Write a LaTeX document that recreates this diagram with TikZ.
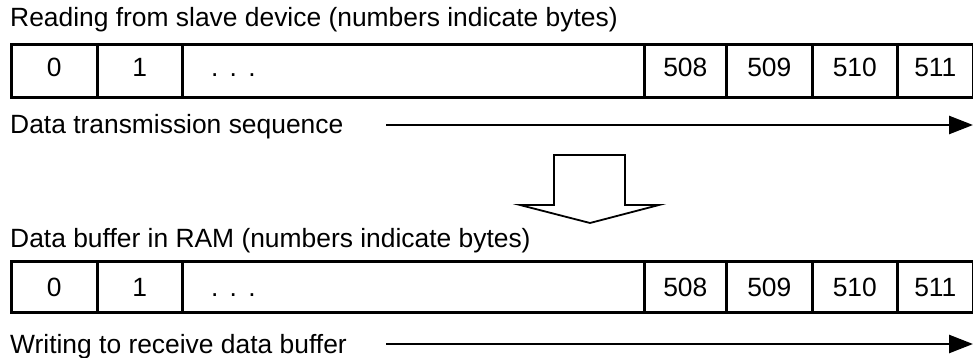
\documentclass[tikz,border=0pt]{standalone}
\usepackage{fontspec}
\setmainfont{Liberation Sans}
\usetikzlibrary{arrows.meta}
\begin{document}
\begin{tikzpicture}[x=1pt,y=-1pt,
  cellbox/.style={draw=black,line width=2.6pt,inner sep=0pt},
  lbl/.style={inner sep=0pt,anchor=base west,font=\fontsize{26.4}{30}\selectfont},
  num/.style={inner sep=0pt,anchor=base,font=\fontsize{26.4}{30}\selectfont},
  flow/.style={line width=2.6pt,-{Triangle[length=24pt,width=18pt]}}]
\useasboundingbox (0,0) rectangle (973,358);
\newcommand{\mydots}{.\hspace{11.2pt}.\hspace{11.2pt}.}
% top row
\foreach \n/\a/\b in {t0/10/96,t1/96/181,t2/181/643,t3/643/725,t4/725/811,t5/811/896,t6/896/972}{
  \node[cellbox,minimum width={\b-\a},minimum height=53pt,anchor=north west] (\n) at (\a,43) {};
}
\node[num] (a0) at (t0.center |- 0,77) {0};
\node[num] (a1) at (t1.center |- 0,77) {1};
\node[lbl] (a2) at (211,77) {\mydots};
\node[num] (a3) at (t3.center |- 0,77) {508};
\node[num] (a4) at (t4.center |- 0,77) {509};
\node[num] (a5) at (t5.center |- 0,77) {510};
\node[num] (a6) at (t6.center |- 0,77) {511};
% bottom row
\foreach \n/\a/\b in {b0/10/96,b1/96/181,b2/181/643,b3/643/725,b4/725/811,b5/811/896,b6/896/972}{
  \node[cellbox,minimum width={\b-\a},minimum height=51pt,anchor=north west] (\n) at (\a,260) {};
}
\node[num] (c0) at (b0.center |- 0,296) {0};
\node[num] (c1) at (b1.center |- 0,296) {1};
\node[lbl] (c2) at (211,296) {\mydots};
\node[num] (c3) at (b3.center |- 0,296) {508};
\node[num] (c4) at (b4.center |- 0,296) {509};
\node[num] (c5) at (b5.center |- 0,296) {510};
\node[num] (c6) at (b6.center |- 0,296) {511};
% labels
\node[lbl] (title1) at (10,27) {Reading from slave device (numbers indicate bytes)};
\node[lbl] (seq1) at (10,134) {Data transmission sequence};
\node[lbl] (title2) at (10,247) {Data buffer in RAM (numbers indicate bytes)};
\node[lbl] (seq2) at (10,353) {Writing to receive data buffer};
% arrows
\coordinate (s1) at (386,125); \coordinate (e1) at (973,125);
\coordinate (s2) at (386,344); \coordinate (e2) at (973,344);
\draw[flow] (s1) -- (e1);
\draw[flow] (s2) -- (e2);
% block arrow
\draw[line width=1.8pt,line join=miter] (554,155) -- (625,155) -- (625,205) -- (659,205) -- (590,223) -- (520,205) -- (554,205) -- cycle;
\end{tikzpicture}
\end{document}
